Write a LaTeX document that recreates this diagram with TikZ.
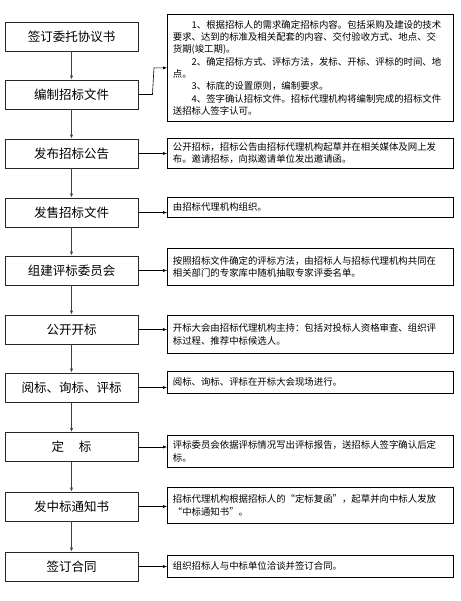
\documentclass[tikz,border=0pt]{standalone}
\usepackage{fontspec}
\setmainfont{Noto Sans CJK SC}
\usetikzlibrary{arrows.meta}

\begin{document}
\begin{tikzpicture}[x=1pt,y=-1pt,
  stepbox/.style={draw=black!85, line width=0.9pt, minimum width=133pt, minimum height=29pt, inner sep=0pt, font=\fontsize{12.5}{14}\selectfont},
  notebox/.style={draw, line width=0.7pt, anchor=north west, align=left, text width=275pt, inner xsep=5.5pt, inner ysep=3pt, font=\fontsize{9.4}{12.3}\selectfont},
  flow/.style={-{Latex[length=4pt,width=3.2pt]}, draw=black!75, line width=0.7pt},
  link/.style={-{Latex[length=4pt,width=3.2pt]}, line width=0.6pt}]
  \useasboundingbox (0,0) rectangle (460,601);
  \foreach \i/\yy/\lbl in {1/36.5/签订委托协议书, 2/94.5/编制招标文件, 3/153.5/发布招标公告, 4/212.5/发售招标文件, 5/270.5/组建评标委员会, 6/329.5/公开开标, 7/387.5/阅标、询标、评标, 8/447/定\hspace{1.2em}标, 9/506.5/发中标通知书, 10/566.5/签订合同} {
    \node[stepbox] (s\i) at (71.5,\yy) {\lbl};
  }
  \foreach \i [evaluate=\i as \j using int(\i+1)] in {1,...,9} { \draw[flow] (s\i) -- (s\j); }

  \node[notebox, minimum height=107pt] (r1) at (167,14) {\hspace*{2em}1、根据招标人的需求确定招标内容。包括采购及建设的技术\\
    要求、达到的标准及相关配套的内容、交付验收方式、地点、交\\
    货期(竣工期)。\\
    \hspace*{2em}2、确定招标方式、评标方法，发标、开标、评标的时间、地\\
    点。\\
    \hspace*{2em}3、标底的设置原则，编制要求。\\
    \hspace*{2em}4、签字确认招标文件。招标代理机构将编制完成的招标文件\\
    送招标人签字认可。\par\vspace*{10pt}};
  \node[notebox, minimum height=30pt] (r2) at (167,138) {公开招标，招标公告由招标代理机构起草并在相关媒体及网上发\\布。邀请招标，向拟邀请单位发出邀请函。};
  \node[notebox, minimum height=20pt] (r3) at (167,197) {由招标代理机构组织。};
  \node[notebox, minimum height=37pt] (r4) at (167,248) {按照招标文件确定的评标方法，由招标人与招标代理机构共同在\\相关部门的专家库中随机抽取专家评委名单。};
  \node[notebox, minimum height=38pt] (r5) at (167,315) {开标大会由招标代理机构主持：包括对投标人资格审查、组织评\\标过程、推荐中标候选人。};
  \node[notebox, minimum height=22pt] (r6) at (167,371) {阅标、询标、评标在开标大会现场进行。};
  \node[notebox, minimum height=32pt] (r7) at (167,435) {评标委员会依据评标情况写出评标报告，送招标人签字确认后定\\标。};
  \node[notebox, minimum height=36pt] (r8) at (167,487) {招标代理机构根据招标人的“定标复函”，起草并向中标人发放\\“中标通知书”。};
  \node[notebox, minimum height=22pt] (r9) at (167,555) {组织招标人与中标单位洽谈并签订合同。};

  \draw[link] (s2.east) -- ++(14,0) -- ([xshift=-13pt]r1.west) -- (r1.west);
  \foreach \i [evaluate=\i as \j using int(\i-1)] in {3,...,10} { \draw[link] (s\i.east) -- (s\i.east -| r\j.west); }
\end{tikzpicture}
\end{document}
